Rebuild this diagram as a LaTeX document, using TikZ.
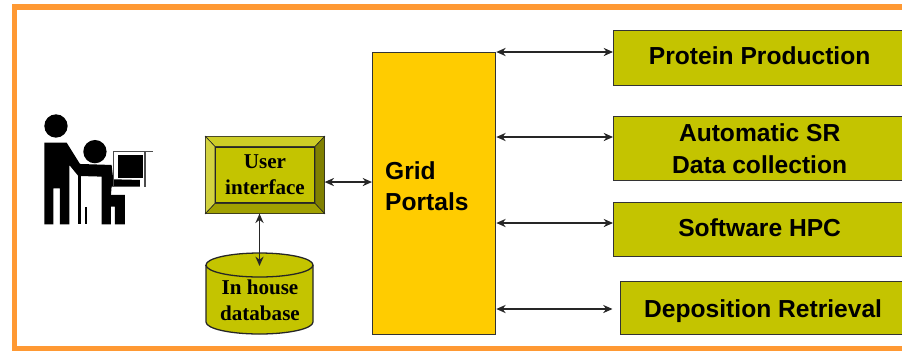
\documentclass[tikz,border=0pt]{standalone}
\usepackage{fontspec}
\setmainfont{Liberation Sans}
\newfontfamily\serifbold[Scale=1]{Liberation Serif}
\usetikzlibrary{arrows.meta,positioning}
\definecolor{olivebox}{HTML}{C4C400}
\definecolor{gridgold}{HTML}{FFCC00}
\definecolor{frameorange}{HTML}{FF9933}
\tikzset{
  servicebox/.style={draw=black!80, line width=1.1pt, fill=olivebox, anchor=north west,
    minimum width=8.76cm, align=center, font=\fontsize{21}{27}\selectfont\bfseries},
  twoway/.style={{Stealth[length=8pt,width=7pt]}-{Stealth[length=8pt,width=7pt]}, line width=1.2pt, black!85},
  pcicon/.style={fill=black, draw=none}
}
\begin{document}
\begin{tikzpicture}[x=0.03cm,y=-0.03cm]
  \useasboundingbox (0,0) rectangle (902,350);
  \clip (0,0) rectangle (902,350);
  % Frame
  \draw[frameorange, line width=4.6pt] (14.5,7) rectangle (930,349);
  % Services
  \node[servicebox, minimum height=1.65cm, text depth=4pt] (protein) at (613,30) {Protein Production};
  \node[servicebox, minimum height=1.92cm] (collect) at (613,116) {Automatic SR\\Data collection};
  \node[servicebox, minimum height=1.62cm, text depth=4pt] (software) at (613,202) {Software HPC};
  \node[servicebox, minimum height=1.59cm, minimum width=8.55cm, text height=20pt] (deposit) at (620,281) {Deposition Retrieval};
  % Grid portals
  \node[draw=black!80, line width=1.1pt, fill=gridgold, anchor=north west,
    minimum width=3.69cm, minimum height=8.46cm] (grid) at (372,52) {};
  \node[anchor=west, align=left, font=\fontsize{21}{26}\selectfont\bfseries] (gridtext) at (381,186) {Grid\\Portals};
  % User interface
  \node[draw=black!85, line width=1.1pt, fill=olivebox, minimum width=3.54cm, minimum height=2.28cm] (ui) at (265,175) {};
  \node[draw=black!85, line width=1.1pt, fill=olivebox, minimum width=2.97cm, minimum height=1.68cm, align=center,
    font=\serifbold\fontsize{18}{22}\selectfont\bfseries] (uiface) at (265,175) {User\\interface};
  \fill[olivebox!85!white, draw=black!85, line width=0.5pt] (ui.north west) -- (ui.north east) -- (uiface.north east) -- (uiface.north west) -- cycle;
  \fill[olivebox!75!white, draw=black!85, line width=0.5pt] (ui.north west) -- (ui.south west) -- (uiface.south west) -- (uiface.north west) -- cycle;
  \fill[olivebox!65!black, draw=black!85, line width=0.5pt] (ui.north east) -- (ui.south east) -- (uiface.south east) -- (uiface.north east) -- cycle;
  \fill[olivebox!82!black, draw=black!85, line width=0.5pt] (ui.south west) -- (ui.south east) -- (uiface.south east) -- (uiface.south west) -- cycle;
  % Database
  \draw[fill=olivebox, draw=black!85, line width=1.1pt] (206,265) -- (206,322)
    arc[start angle=180, end angle=360, x radius=1.605cm, y radius=0.36cm] -- (313,265)
    arc[start angle=0, end angle=180, x radius=1.605cm, y radius=0.36cm] -- cycle;
  \draw[draw=black!85, line width=1.1pt] (206,265) arc[start angle=180, end angle=360, x radius=1.605cm, y radius=0.36cm];
  \node[align=center, font=\serifbold\fontsize{18}{22}\selectfont\bfseries] (dbtext) at (260,300) {In house\\database};
  \coordinate (dbin) at (259.5,266);
  % Connectors
  \draw[twoway] (ui.south -| dbin) -- (dbin);
  \draw[twoway] (ui.east) ++(0,-6pt) coordinate (uiport) (uiport) -- (uiport -| grid.west);
  \foreach \target/\ypos in {protein/52,collect/137,software/223}
    \draw[twoway] (grid.east |- 0,\ypos) -- (\target.west |- 0,\ypos);
  \draw[twoway, shorten >=0.225cm] (grid.east |- 0,309) -- (deposit.west |- 0,309);
  % Person at a computer
  \begin{scope}[shift={(0,90)},x=0.01cm,y=-0.01cm]
    \fill[pcicon] (168,108) circle (35);
    \fill[pcicon] (285,185) circle (35);
    \fill[pcicon] (133,158) -- (200,158) -- (240,222) -- (335,225) -- (340,268) -- (420,270) -- (420,290) -- (335,290)
      -- (333,315) -- (375,315) -- (375,403) -- (345,403) -- (345,350) -- (333,350) -- (333,403) -- (305,403)
      -- (305,260) -- (235,258) -- (208,225) -- (208,403) -- (180,403) -- (180,295) -- (160,295) -- (160,403) -- (133,403) -- cycle;
    \fill[pcicon] (235,258) rectangle (242,403);
    \fill[pcicon] (255,350) rectangle (262,403);
    \fill[pcicon] (355,195) rectangle (428,265);
    \draw[black!70, line width=1pt] (340,290) -- (340,185) -- (460,185);
    \draw[black!70, line width=1pt] (435,185) -- (435,290);
  \end{scope}
\end{tikzpicture}
\end{document}
